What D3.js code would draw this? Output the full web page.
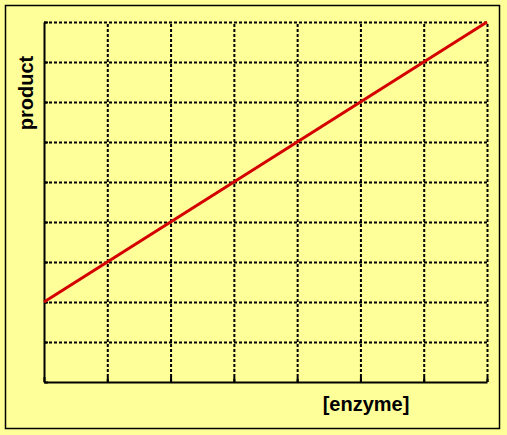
<!DOCTYPE html>
<html>
<head>
<meta charset="utf-8">
<script src="https://cdn.jsdelivr.net/npm/d3@7"></script>
<style>
  html, body { margin: 0; padding: 0; background: #ffff99; }
  svg { display: block; }
  .grid line { stroke: #000; stroke-width: 2; stroke-dasharray: 3,2; }
  .grid path { display: none; }
  .axis path, .axis line { stroke: #000; stroke-width: 2; }
  .label { font-family: "Liberation Sans", Arial, sans-serif; font-weight: bold; font-size: 20px; fill: #000; }
</style>
</head>
<body>
<svg class="chart"></svg>
<script>
// data
var enzyme = [0, 7];
var product = [2, 9];
var xTicks = [0, 1, 2, 3, 4, 5, 6, 7];
var yTicks = [0, 1, 2, 3, 4, 5, 6, 7, 8, 9];

var W = 507, H = 435;
var margin = {top: 22, right: 20, bottom: 53, left: 44},
  width = W - margin.left - margin.right,
  height = H - margin.top - margin.bottom;

var svg = d3.select(".chart")
  .attr("width", W)
  .attr("height", H);

// frame
svg.append("rect")
  .attr("x", 5.5)
  .attr("y", 5.5)
  .attr("width", 494)
  .attr("height", 423)
  .attr("fill", "#ffff99")
  .attr("stroke", "#000")
  .attr("stroke-width", 1.5);

var chart = svg.append("g")
  .attr("transform", "translate(" + margin.left + "," + margin.top + ")");

var x = d3.scaleLinear().domain([0, 7]).range([0, width]);
var y = d3.scaleLinear().domain([0, 9]).range([height, 0]);

// dotted grid
chart.append("g")
  .attr("class", "grid")
  .attr("transform", "translate(0," + height + ")")
  .call(d3.axisBottom(x).tickValues(xTicks.slice(1)).tickSize(-height).tickFormat(""));

chart.append("g")
  .attr("class", "grid")
  .call(d3.axisLeft(y).tickValues(yTicks.slice(1)).tickSize(-width).tickFormat(""));

// axes with inside ticks
chart.append("g")
  .attr("class", "axis")
  .attr("transform", "translate(0," + height + ")")
  .call(d3.axisBottom(x).tickValues(xTicks).tickSize(-5).tickSizeOuter(0).tickFormat(""));

chart.append("g")
  .attr("class", "axis")
  .call(d3.axisLeft(y).tickValues(yTicks).tickSize(-4).tickSizeOuter(0).tickFormat(""));

// red line
var line = d3.line()
  .x(function(d) { return x(d[0]); })
  .y(function(d) { return y(d[1]); });

chart.append("path")
  .datum(d3.zip(enzyme, product))
  .attr("fill", "none")
  .attr("stroke", "#d40000")
  .attr("stroke-width", 3)
  .attr("d", line);

// axis labels
svg.append("text")
  .attr("class", "label")
  .attr("x", 366)
  .attr("y", 411)
  .style("text-anchor", "middle")
  .text("[enzyme]");

svg.append("text")
  .attr("class", "label")
  .attr("transform", "translate(33,93) rotate(-90)")
  .style("text-anchor", "middle")
  .text("product");
</script>
</body>
</html>
